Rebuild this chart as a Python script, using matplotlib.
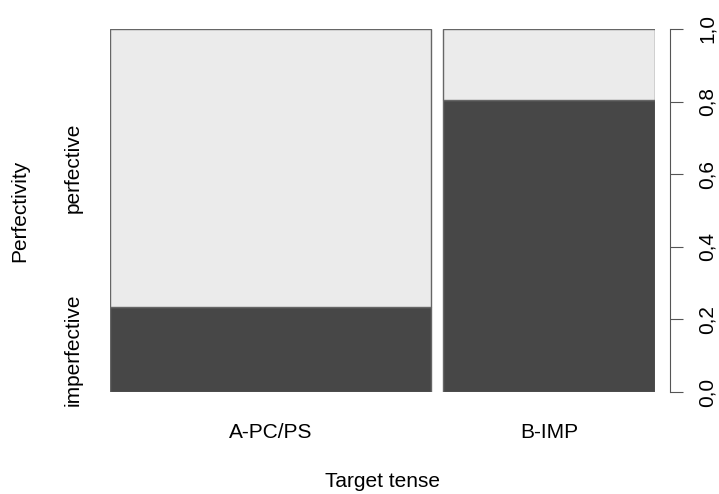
import numpy as np
import matplotlib.pyplot as plt
from matplotlib.ticker import FuncFormatter

plt.rcParams["font.family"] = ["Liberation Sans", "DejaVu Sans"]

# spineplot: Perfectivity by Target tense
tenses = ["A-PC/PS", "B-IMP"]
tense_share = [0.602, 0.398]          # relative column widths
imperfective_prop = [0.234, 0.804]    # share of imperfective within each tense
levels = ["imperfective", "perfective"]

dark = "#474747"
light = "#ebebeb"
edge = "#666666"
gap = 0.022
fs = 15

fig = plt.figure(figsize=(7.19, 4.94), dpi=100)
ax = fig.add_axes([0.153, 0.2065, 0.758, 0.735])

widths = np.array(tense_share)
lefts = np.concatenate([[0], np.cumsum(widths[:-1] + gap)])
imp = np.array(imperfective_prop)

ax.bar(lefts, imp, width=widths, align="edge", color=dark, edgecolor=edge, linewidth=1.0)
ax.bar(lefts, 1 - imp, bottom=imp, width=widths, align="edge", color=light,
       edgecolor=edge, linewidth=1.0)

ax.set_xlim(lefts[0], lefts[-1] + widths[-1])
ax.set_ylim(0, 1)

for s in ["top", "bottom", "left"]:
    ax.spines[s].set_visible(False)

# x labels at column centres
ax.set_xticks(lefts + widths / 2)
ax.set_xticklabels(tenses, fontsize=fs)
ax.tick_params(axis="x", length=0, pad=22)
ax.set_xlabel("Target tense", fontsize=fs, labelpad=22)

# right-hand proportion axis
ax.spines["right"].set_position(("outward", 11))
ax.spines["right"].set_bounds(0, 1)
ax.spines["right"].set_color("#555555")
ax.yaxis.tick_right()
ax.set_yticks(np.arange(0, 1.01, 0.2))
ax.yaxis.set_major_formatter(FuncFormatter(lambda v, p: f"{v:.1f}".replace(".", ",")))
ax.tick_params(axis="y", right=True, length=9, width=0.8, color="#555555",
               labelsize=fs, pad=11)
for lab in ax.get_yticklabels():
    lab.set_rotation(90)
    lab.set_va("center")

# left category labels at the segment middles of the first column
mids = [imp[0] / 2, (1 + imp[0]) / 2]
for y, name in zip(mids, levels):
    ax.text(-0.068, y, name, rotation=90, ha="center", va="center", fontsize=fs,
            transform=ax.get_yaxis_transform())
fig.text(0.028, ax.get_position().y0 + ax.get_position().height / 2, "Perfectivity",
         rotation=90, ha="center", va="center", fontsize=fs)

fig.savefig("out.png", dpi=100, facecolor="white")
